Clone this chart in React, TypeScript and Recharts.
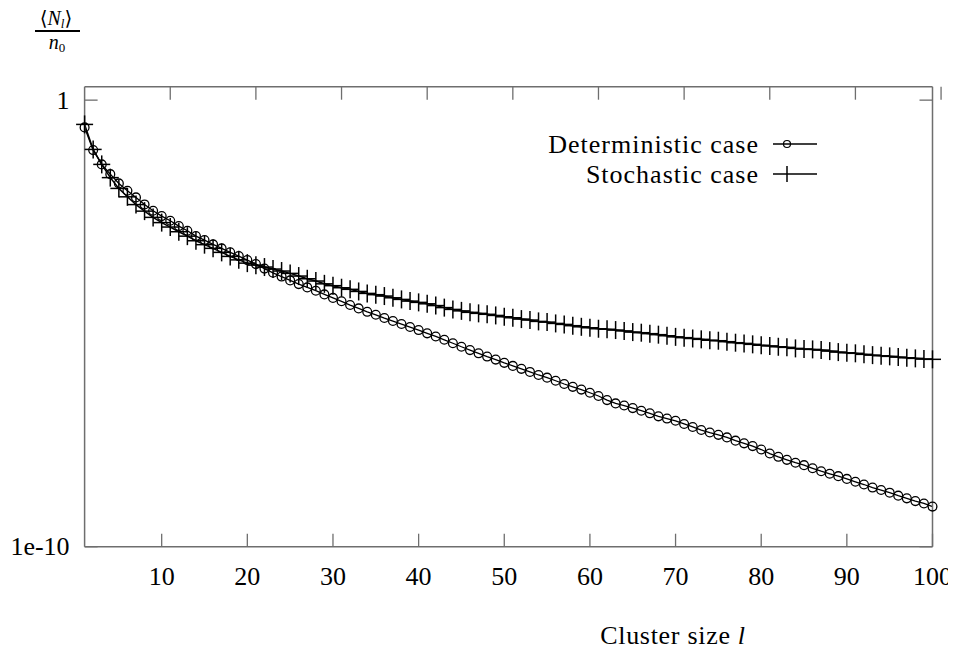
import { LineChart, Line, XAxis, YAxis } from 'recharts';

const sizes = [
  1, 2, 3, 4, 5, 6, 7, 8, 9, 10, 11, 12, 13, 14, 15, 16, 17, 18, 19, 20,
  21, 22, 23, 24, 25, 26, 27, 28, 29, 30, 31, 32, 33, 34, 35, 36, 37, 38, 39, 40,
  41, 42, 43, 44, 45, 46, 47, 48, 49, 50, 51, 52, 53, 54, 55, 56, 57, 58, 59, 60,
  61, 62, 63, 64, 65, 66, 67, 68, 69, 70, 71, 72, 73, 74, 75, 76, 77, 78, 79, 80,
  81, 82, 83, 84, 85, 86, 87, 88, 89, 90, 91, 92, 93, 94, 95, 96, 97, 98, 99, 100,
];

const deterministic = [
  0.245, 0.076, 0.0364, 0.022, 0.01365, 0.00933, 0.00664, 0.00462, 0.00333, 0.00253,
  0.00199, 0.00151, 0.00119, 9.02e-4, 7.34e-4, 5.89e-4, 4.79e-4, 3.9e-4, 3.22e-4, 2.62e-4,
  2.13e-4, 1.69e-4, 1.36e-4, 1.12e-4, 9.2e-5, 7.6e-5, 6.4e-5, 5.4e-5, 4.47e-5, 3.73e-5,
  3.13e-5, 2.58e-5, 2.17e-5, 1.82e-5, 1.56e-5, 1.32e-5, 1.13e-5, 9.7e-6, 8.3e-6, 7.1e-6,
  6.0e-6, 5.1e-6, 4.3e-6, 3.6e-6, 3.0e-6, 2.53e-6, 2.14e-6, 1.81e-6, 1.55e-6, 1.31e-6,
  1.12e-6, 9.6e-7, 8.2e-7, 7.0e-7, 6.1e-7, 5.2e-7, 4.4e-7, 3.8e-7, 3.3e-7, 2.8e-7,
  2.37e-7, 1.92e-7, 1.62e-7, 1.45e-7, 1.27e-7, 1.11e-7, 9.7e-8, 8.3e-8, 7.4e-8, 6.6e-8,
  5.6e-8, 4.8e-8, 4.1e-8, 3.6e-8, 3.2e-8, 2.8e-8, 2.37e-8, 2.06e-8, 1.79e-8, 1.5e-8,
  1.22e-8, 1.03e-8, 8.8e-9, 7.6e-9, 6.7e-9, 5.7e-9, 4.9e-9, 4.3e-9, 3.8e-9, 3.3e-9,
  2.84e-9, 2.47e-9, 2.11e-9, 1.86e-9, 1.62e-9, 1.39e-9, 1.21e-9, 1.05e-9, 9.3e-10, 7.9e-10,
];

const stochastic = [
  0.286, 0.0788, 0.0364, 0.0184, 0.01055, 0.00684, 0.00458, 0.00327, 0.00237, 0.00181,
  0.00144, 0.00113, 9.0e-4, 7.1e-4, 5.8e-4, 4.8e-4, 3.9e-4, 3.17e-4, 2.65e-4, 2.24e-4,
  2.02e-4, 1.83e-4, 1.65e-4, 1.49e-4, 1.32e-4, 1.15e-4, 1.0e-4, 8.9e-5, 7.7e-5, 7.0e-5,
  6.3e-5, 5.8e-5, 5.2e-5, 4.7e-5, 4.4e-5, 4.1e-5, 3.75e-5, 3.45e-5, 3.16e-5, 2.96e-5,
  2.75e-5, 2.51e-5, 2.26e-5, 2.06e-5, 1.91e-5, 1.77e-5, 1.68e-5, 1.6e-5, 1.51e-5, 1.41e-5,
  1.34e-5, 1.25e-5, 1.19e-5, 1.11e-5, 1.07e-5, 1.0e-5, 9.5e-6, 8.9e-6, 8.4e-6, 8.0e-6,
  7.6e-6, 7.4e-6, 7.1e-6, 6.8e-6, 6.4e-6, 6.2e-6, 5.9e-6, 5.6e-6, 5.3e-6, 5.0e-6,
  4.8e-6, 4.6e-6, 4.4e-6, 4.2e-6, 4.1e-6, 3.9e-6, 3.7e-6, 3.57e-6, 3.4e-6, 3.24e-6,
  3.14e-6, 3.0e-6, 2.91e-6, 2.76e-6, 2.67e-6, 2.62e-6, 2.53e-6, 2.4e-6, 2.28e-6, 2.2e-6,
  2.14e-6, 2.03e-6, 1.95e-6, 1.89e-6, 1.83e-6, 1.76e-6, 1.7e-6, 1.65e-6, 1.59e-6, 1.57e-6,
];

const seriesNames = ['Deterministic case', 'Stochastic case'];
const xTicks = [10, 20, 30, 40, 50, 60, 70, 80, 90, 100];
const yTicks = [1e-10, 1];
const yTickLabels = ['1e-10', '1'];

const data = sizes.map((l, i) => ({ l, det: deterministic[i], sto: stochastic[i] }));

const serif = { fontFamily: "'Liberation Serif', 'DejaVu Serif', serif" };
const AXIS = '#6e6e6e';

const Circle = (p: any) => (
  <circle key={`c${p.index}`} cx={p.cx} cy={p.cy} r={4.4} fill="none" stroke="#000" strokeWidth={1.3} />
);

const Plus = (p: any) => (
  <g key={`p${p.index}`}>
    <line x1={p.cx - 8.5} x2={p.cx + 8.5} y1={p.cy} y2={p.cy} stroke="#000" strokeWidth={1.5} />
    <line x1={p.cx} x2={p.cx} y1={p.cy - 9} y2={p.cy + 9} stroke="#000" strokeWidth={1.5} />
  </g>
);

const BottomTick = ({ x, y, payload }: any) => (
  <g>
    <line x1={x} x2={x} y1={y} y2={y - 13} stroke={AXIS} strokeWidth={1.3} />
    <text x={x} y={y + 38.5} textAnchor="middle" style={serif} fontSize={26} fill="#000">
      {payload.value}
    </text>
  </g>
);

const TopTick = ({ x, y }: any) => (
  <line x1={x} x2={x} y1={y} y2={y + 13} stroke={AXIS} strokeWidth={1.3} />
);

const LeftTick = ({ x, y, payload }: any) => (
  <g>
    <line x1={x} x2={x + 13} y1={y} y2={y} stroke={AXIS} strokeWidth={1.3} />
    <text x={x - 15} y={y + 8.5} textAnchor="end" style={serif} fontSize={26} fill="#000">
      {yTickLabels[yTicks.indexOf(payload.value)]}
    </text>
  </g>
);

const RightTick = ({ x, y }: any) => (
  <line x1={x} x2={x - 13} y1={y} y2={y} stroke={AXIS} strokeWidth={1.3} />
);

function Decor() {
  return (
    <g style={serif} fill="#000">
      {/* y label: <N_l>/n_0 */}
      <text x={48} y={17} textAnchor="middle" fontSize={20}>
        <tspan>⟨</tspan>
        <tspan fontStyle="italic">N</tspan>
        <tspan fontStyle="italic" fontSize={13} dy={3}>l</tspan>
        <tspan dy={-3}>⟩</tspan>
      </text>
      <line x1={27} x2={72} y1={23} y2={23} stroke="#000" strokeWidth={2} />
      <text x={49} y={41} textAnchor="middle" fontSize={20}>
        <tspan fontStyle="italic">n</tspan>
        <tspan fontSize={13} dy={3}>0</tspan>
      </text>

      {/* key */}
      {seriesNames.map((name, i) => {
        const cy = 136 + i * 30;
        return (
          <g key={name}>
            <text x={751} y={cy + 8.5} textAnchor="end" fontSize={26} letterSpacing={1}>
              {name}
            </text>
            <line x1={765} x2={809} y1={cy} y2={cy} stroke="#000" strokeWidth={1.3} />
            {i === 0 ? (
              <circle cx={779} cy={cy} r={3.5} fill="none" stroke="#000" strokeWidth={1.2} />
            ) : (
              <line x1={779} x2={779} y1={cy - 8} y2={cy + 8} stroke="#000" strokeWidth={1.5} />
            )}
          </g>
        );
      })}

      {/* x label */}
      <text x={665} y={636} textAnchor="middle" fontSize={26} letterSpacing={0.7}>
        Cluster size <tspan fontStyle="italic">l</tspan>
      </text>
    </g>
  );
}

export default function App() {
  return (
    <LineChart
      width={948}
      height={646}
      data={data}
      margin={{ top: 77.7, right: 22.5, left: 16.6, bottom: 47.3 }}
    >
      <XAxis
        dataKey="l"
        type="number"
        domain={[1, 100]}
        ticks={xTicks}
        height={60}
        axisLine={{ stroke: AXIS, strokeWidth: 1.5 }}
        tickLine={false}
        tickSize={0}
        tickMargin={0}
        tick={BottomTick}
        interval={0}
      />
      <XAxis
        xAxisId="top"
        orientation="top"
        type="number"
        domain={[1, 100]}
        allowDataOverflow
        ticks={xTicks}
        height={1}
        axisLine={{ stroke: AXIS, strokeWidth: 1.5 }}
        tickLine={false}
        tickSize={0}
        tickMargin={0}
        tick={TopTick}
        interval={0}
      />
      <YAxis
        type="number"
        scale="log"
        domain={[1e-10, 2]}
        ticks={yTicks}
        width={60}
        axisLine={{ stroke: AXIS, strokeWidth: 1.5 }}
        tickLine={false}
        tickSize={0}
        tickMargin={0}
        tick={LeftTick}
        interval={0}
      />
      <YAxis
        yAxisId="right"
        orientation="right"
        type="number"
        scale="log"
        domain={[1e-10, 2]}
        allowDataOverflow
        ticks={yTicks}
        width={1}
        axisLine={{ stroke: AXIS, strokeWidth: 1.5 }}
        tickLine={false}
        tickSize={0}
        tickMargin={0}
        tick={RightTick}
        interval={0}
      />
      <Line
        dataKey="det"
        name={seriesNames[0]}
        stroke="#000"
        strokeWidth={1.3}
        dot={Circle}
        isAnimationActive={false}
      />
      <Line
        dataKey="sto"
        name={seriesNames[1]}
        stroke="#000"
        strokeWidth={1.5}
        dot={Plus}
        isAnimationActive={false}
      />
      <Decor />
    </LineChart>
  );
}
